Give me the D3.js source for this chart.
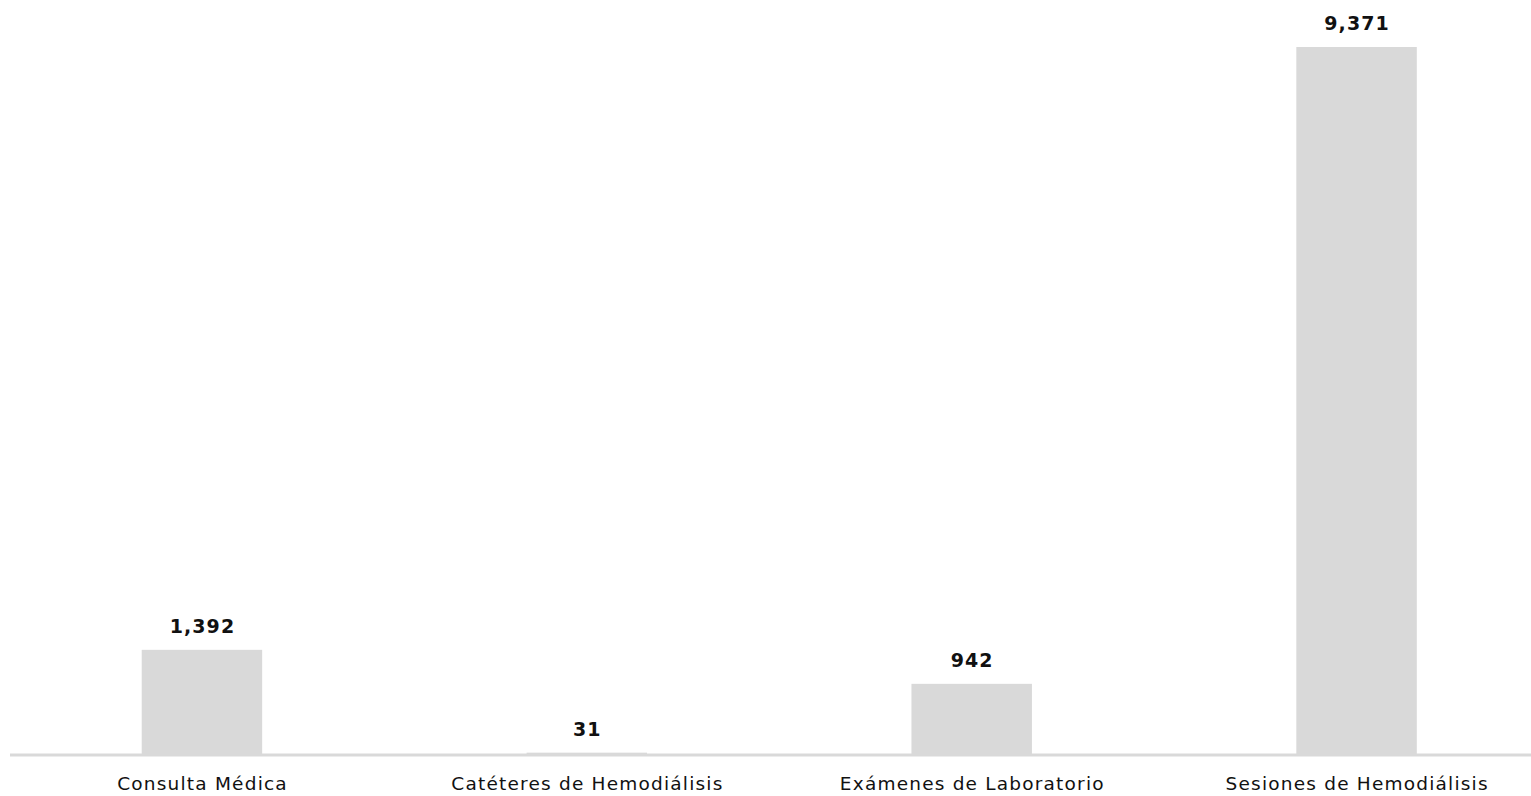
<!DOCTYPE html>
<html><head><meta charset="utf-8">
<script src="https://cdn.jsdelivr.net/npm/d3@7"></script>
<style>html,body{margin:0;padding:0;background:#fff;overflow:hidden}</style>
</head><body>
<svg id="chart" width="1531" height="796"></svg>
<script>
const categories = ["Consulta Médica", "Catéteres de Hemodiálisis", "Exámenes de Laboratorio", "Sesiones de Hemodiálisis"];
const values = [1392, 31, 942, 9371];

const W = 1531, H = 796;
const svg = d3.select("#chart");
const x = d3.scaleBand().domain(categories).range([9.5, 1549]).paddingInner(0.687).paddingOuter(0.3435);
const y = d3.scaleLinear().domain([0, d3.max(values)]).range([755, 47]);

svg.selectAll("rect.bar").data(categories).join("rect")
  .attr("class", "bar")
  .attr("x", d => x(d))
  .attr("width", x.bandwidth())
  .attr("y", (d, i) => y(values[i]))
  .attr("height", (d, i) => y(0) - y(values[i]))
  .attr("fill", "#d9d9d9");

svg.append("line").attr("x1", 10).attr("x2", W).attr("y1", 755).attr("y2", 755)
  .attr("stroke", "#d9d9d9").attr("stroke-width", 3);

const fmt = d3.format(",");
svg.selectAll("text.val").data(categories).join("text")
  .attr("class", "val")
  .attr("x", d => x(d) + x.bandwidth() / 2 + 0.5)
  .attr("y", (d, i) => y(values[i]) - 17)
  .attr("text-anchor", "middle")
  .attr("font-family", "DejaVu Sans, Verdana, sans-serif")
  .attr("font-weight", "bold")
  .attr("font-size", 19)
  .attr("letter-spacing", 1.1)
  .attr("fill", "#111")
  .text((d, i) => fmt(values[i]));

const axis = d3.axisBottom(x).tickSize(0).tickPadding(0);
const g = svg.append("g").attr("transform", "translate(0,755)").call(axis);
g.select(".domain").remove();
g.selectAll("text")
  .attr("dy", null)
  .attr("y", 35)
  .attr("x", 0.6)
  .attr("font-family", "DejaVu Sans, Verdana, sans-serif")
  .attr("font-size", 18.5)
  .attr("letter-spacing", 1.2)
  .attr("fill", "#111");
</script>
</body></html>
